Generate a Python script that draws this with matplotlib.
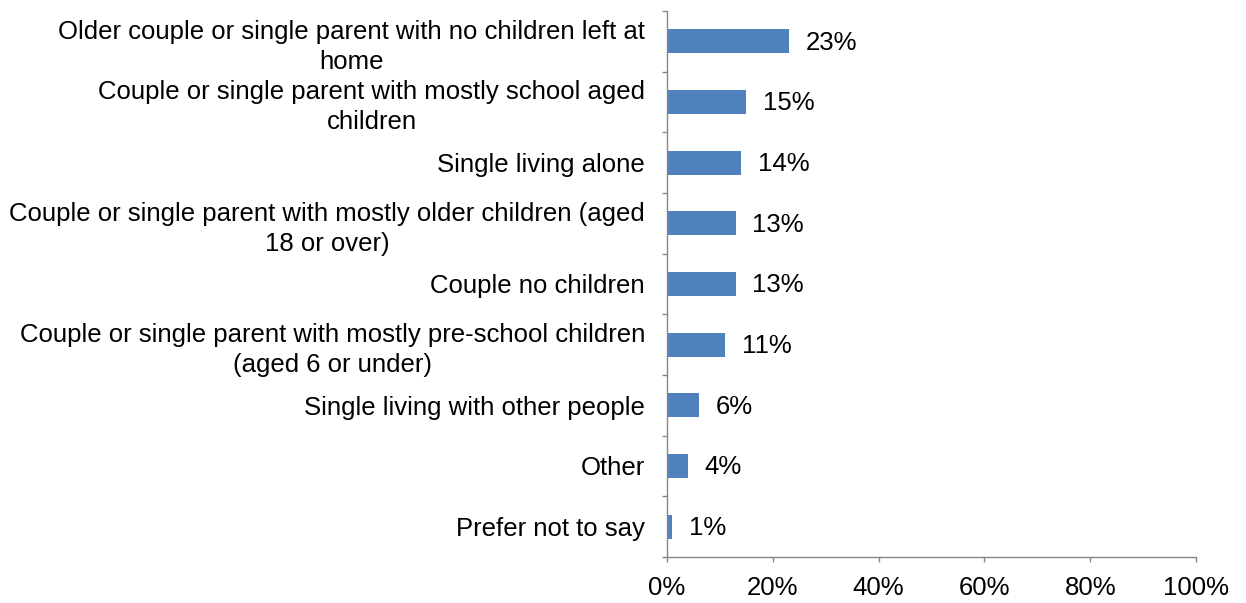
import matplotlib
matplotlib.use("Agg")
import matplotlib.pyplot as plt
from matplotlib.ticker import FixedLocator

plt.rcParams['font.family'] = ['Liberation Sans', 'DejaVu Sans']

categories = [
    "Older couple or single parent with no children left at\nhome",
    "Couple or single parent with mostly school aged\nchildren",
    "Single living alone",
    "Couple or single parent with mostly older children (aged\n18 or over)",
    "Couple no children",
    "Couple or single parent with mostly pre-school children\n(aged 6 or under)",
    "Single living with other people",
    "Other",
    "Prefer not to say",
]
values = [23, 15, 14, 13, 13, 11, 6, 4, 1]
x_ticks = [0, 20, 40, 60, 80, 100]
x_tick_labels = ["0%", "20%", "40%", "60%", "80%", "100%"]

bar_color = "#4F81BD"
axis_color = "#868686"
fs = 18.5

fig = plt.figure(figsize=(12.46, 6.03), dpi=100)
ax = fig.add_axes([0.5353, 0.0763, 0.9600 - 0.5353, 0.9818 - 0.0763])

n = len(categories)
pos = list(range(n))
ax.barh(pos, values, height=0.4, color=bar_color)
ax.set_ylim(n - 0.5, -0.5)
ax.set_xlim(0, 100)

for p, v in zip(pos, values):
    ax.annotate(f"{v}%", xy=(v, p), xytext=(12, -1), textcoords="offset points",
                ha="left", va="center", fontsize=fs, color="black")

# category labels placed at bar centres, ticks at category boundaries
ax.yaxis.set_major_locator(FixedLocator([i - 0.5 for i in range(n + 1)]))
ax.yaxis.set_minor_locator(FixedLocator(pos))
ax.set_yticklabels([""] * (n + 1))
ax.set_yticklabels(categories, minor=True, fontsize=fs, multialignment="center",
                   linespacing=1.3)
ax.tick_params(axis="y", which="minor", length=0, pad=15.8)
ax.tick_params(axis="y", which="major", length=3.6, width=1, color=axis_color,
               direction="out")

ax.set_xticks(x_ticks)
ax.set_xticklabels(x_tick_labels, fontsize=fs)
ax.tick_params(axis="x", length=3.6, width=1, color=axis_color, direction="out", pad=10)

for side in ["top", "right"]:
    ax.spines[side].set_visible(False)
for side in ["left", "bottom"]:
    ax.spines[side].set_color(axis_color)
    ax.spines[side].set_linewidth(1)

fig.savefig("out.png", dpi=100, facecolor="white")
